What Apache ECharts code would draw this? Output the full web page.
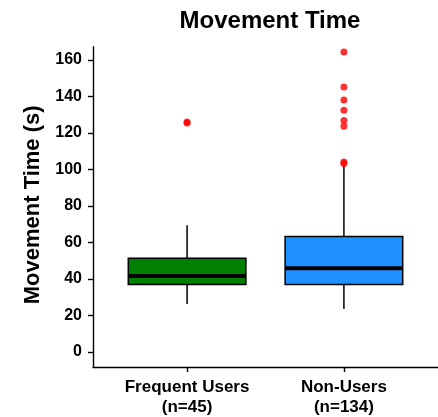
<!DOCTYPE html>
<html>
<head>
<meta charset="utf-8">
<script src="https://cdn.jsdelivr.net/npm/echarts@6/dist/echarts.min.js"></script>
<style>
  html, body { margin: 0; padding: 0; background: #fff; }
  #chart { width: 438px; height: 417px; }
</style>
</head>
<body>
<div id="chart"></div>
<script>
// ---- data ----
const categories = ['Frequent Users\n(n=45)', 'Non-Users\n(n=134)'];
const lowWhisker = [26.3, 23.6];
const q1 = [37.0, 37.0];
const median = [41.7, 45.9];
const q3 = [51.4, 63.3];
const highWhisker = [69.4, 102.0];
const outliersFrequent = [125.4, 126.0];
const outliersNonUsers = [103.2, 104.0, 123.6, 126.8, 132.4, 138.0, 145.1, 164.3];
const yTicks = [0, 20, 40, 60, 80, 100, 120, 140, 160];
const boxColors = ['#008000', '#1E90FF'];

const FONT = '"Liberation Sans", Arial, Helvetica, sans-serif';

const boxData = categories.map((c, i) => [i + 1, lowWhisker[i], q1[i], median[i], q3[i], highWhisker[i]]);
const outlierData = []
  .concat(outliersFrequent.map(v => [1, v]))
  .concat(outliersNonUsers.map(v => [2, v]));

const chart = echarts.init(document.getElementById('chart'), null, { renderer: 'canvas' });

chart.setOption({
  animation: false,
  backgroundColor: '#ffffff',
  title: {
    text: 'Movement Time',
    left: 270,
    textAlign: 'center',
    top: 9,
    padding: 0,
    textStyle: { fontFamily: FONT, fontWeight: 'bold', fontSize: 24, color: '#000' }
  },
  grid: { left: 93, right: 0, top: 46.7, bottom: 48.7, containLabel: false },
  xAxis: {
    type: 'value',
    min: 0.4,
    max: 2.6,
    splitLine: { show: false },
    axisLine: { show: true, onZero: false, lineStyle: { color: '#000', width: 1.4 } },
    axisTick: { show: true, length: 5, customValues: [1, 2], lineStyle: { color: '#000', width: 1.4 } },
    axisLabel: {
      customValues: [1, 2],
      formatter: v => categories[Math.round(v) - 1] || '',
      fontFamily: FONT, fontWeight: 'bold', fontSize: 17, lineHeight: 20, color: '#000', margin: 10
    }
  },
  yAxis: {
    type: 'value',
    min: -8.2,
    max: 167.2,
    name: 'Movement Time (s)',
    nameLocation: 'middle',
    nameGap: 40,
    nameTextStyle: { fontFamily: FONT, fontWeight: 'bold', fontSize: 22, color: '#000', padding: [0, 0, 0, 4] },
    splitLine: { show: false },
    axisLine: { show: true, onZero: false, lineStyle: { color: '#000', width: 1.4 } },
    axisTick: { show: true, length: 5, customValues: yTicks, lineStyle: { color: '#000', width: 1.4 } },
    axisLabel: {
      customValues: yTicks,
      fontFamily: FONT, fontWeight: 'bold', fontSize: 16, color: '#000', margin: 11
    }
  },
  series: [
    {
      type: 'custom',
      data: boxData,
      clip: false,
      renderItem: function (params, api) {
        const x = api.value(0);
        const idx = params.dataIndex;
        const halfW = api.size([0.75, 0])[0] / 2;
        const pLow = api.coord([x, api.value(1)]);
        const pQ1 = api.coord([x, api.value(2)]);
        const pMed = api.coord([x, api.value(3)]);
        const pQ3 = api.coord([x, api.value(4)]);
        const pHigh = api.coord([x, api.value(5)]);
        const lineStyle = { stroke: '#000', lineWidth: 1.5 };
        return {
          type: 'group',
          children: [
            { type: 'line', shape: { x1: pLow[0], y1: pLow[1], x2: pQ1[0], y2: pQ1[1] }, style: lineStyle },
            { type: 'line', shape: { x1: pQ3[0], y1: pQ3[1], x2: pHigh[0], y2: pHigh[1] }, style: lineStyle },
            { type: 'rect', shape: { x: pQ3[0] - halfW, y: pQ3[1], width: 2 * halfW, height: pQ1[1] - pQ3[1] },
              style: { fill: boxColors[idx], stroke: '#000', lineWidth: 1.5 } },
            { type: 'line', shape: { x1: pMed[0] - halfW, y1: pMed[1], x2: pMed[0] + halfW, y2: pMed[1] },
              style: { stroke: '#000', lineWidth: 4 } }
          ]
        };
      }
    },
    {
      type: 'scatter',
      data: outlierData,
      symbol: 'circle',
      symbolSize: 7,
      itemStyle: { color: '#FF0000' },
      z: 5
    }
  ]
});
</script>
</body>
</html>
